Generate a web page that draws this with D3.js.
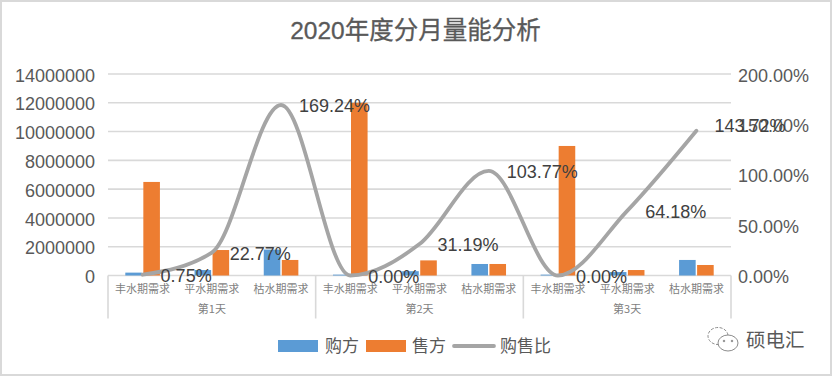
<!DOCTYPE html>
<html>
<head>
<meta charset="utf-8">
<script src="https://cdn.jsdelivr.net/npm/d3@7"></script>
<style>
  html, body { margin: 0; padding: 0; background: #fff; }
  svg { display: block; font-family: "Liberation Sans", "Noto Sans CJK SC", sans-serif; }
</style>
</head>
<body>
<div id="chart"></div>
<script>
// Values
const days = ['第1天', '第2天', '第3天'];
const periods = ['丰水期需求', '平水期需求', '枯水期需求'];
const buyers = [200000, 380000, 1800000, 60000, 300000, 800000, 60000, 240000, 1080000];
const sellers = [6500000, 1770000, 1080000, 12000000, 1050000, 800000, 9000000, 380000, 730000];
const ratios = [0.75, 22.77, 169.24, 0, 31.19, 103.77, 0, 64.18, 143.72];
const leftTicks = [0, 2000000, 4000000, 6000000, 8000000, 10000000, 12000000, 14000000];
const rightTicks = [0, 50, 100, 150, 200];

const fullWidth = 832;
const fullHeight = 376;
const margin = { top: 74, right: 101, bottom: 100.5, left: 108 };
const width = fullWidth - margin.left - margin.right;
const height = fullHeight - margin.top - margin.bottom;

const svg = d3.select('#chart').append('svg')
  .attr('width', fullWidth)
  .attr('height', fullHeight);

// Outer frame
svg.append('rect')
  .attr('x', 1).attr('y', 1)
  .attr('width', fullWidth - 2).attr('height', fullHeight - 2)
  .attr('fill', '#fff').attr('stroke', '#d9d9d9').attr('stroke-width', 2);

// Title
svg.append('text')
  .attr('x', 415.5).attr('y', 39)
  .attr('text-anchor', 'middle')
  .attr('font-size', 24.5)
  .attr('fill', '#595959')
  .attr('stroke', '#595959')
  .attr('stroke-width', 0.3)
  .text('2020年度分月量能分析');

const g = svg.append('g').attr('transform', `translate(${margin.left},${margin.top})`);

// Scales
const x = d3.scaleBand().domain(d3.range(ratios.length)).range([0, width]);
const xDay = d3.scaleBand().domain(days).range([0, width]);
const xBar = d3.scaleBand().domain(['buy', 'sell'])
  .range([x.bandwidth() * 0.25, x.bandwidth() * 0.75])
  .paddingInner(0.08);
const y = d3.scaleLinear().domain([0, 14000000]).range([height, 0]);
const yRight = d3.scaleLinear().domain([0, 200]).range([height, 0]);

// Gridlines
g.append('g')
  .selectAll('line')
  .data(leftTicks)
  .join('line')
    .attr('x1', 0).attr('x2', width)
    .attr('y1', d => y(d)).attr('y2', d => y(d))
    .attr('stroke', '#d9d9d9').attr('stroke-width', 1.6);

// Value axes
const leftAxis = g.append('g')
  .call(d3.axisLeft(y).tickValues(leftTicks).tickSize(0).tickPadding(13).tickFormat(d3.format('d')));
const rightAxis = g.append('g')
  .attr('transform', `translate(${width},0)`)
  .call(d3.axisRight(yRight).tickValues(rightTicks).tickSize(0).tickPadding(7).tickFormat(d => d.toFixed(2) + '%'));
[leftAxis, rightAxis].forEach(a => {
  a.select('.domain').remove();
  a.selectAll('text')
    .attr('dy', '0.4em')
    .attr('font-family', '"Liberation Sans", sans-serif')
    .attr('font-size', 18)
    .attr('fill', '#595959');
});

// Category axis, two levels
const catAxis = g.append('g')
  .attr('transform', `translate(0,${height})`)
  .call(d3.axisBottom(x).tickSize(0).tickPadding(10).tickFormat(i => periods[i % periods.length]));
catAxis.select('.domain').remove();
catAxis.selectAll('text')
  .attr('font-family', '"Noto Sans CJK SC", sans-serif')
  .attr('font-size', 11)
  .attr('fill', '#7f7f7f');

const dayAxis = g.append('g')
  .attr('transform', `translate(0,${height})`)
  .call(d3.axisBottom(xDay).tickSize(0).tickPadding(30));
dayAxis.select('.domain').remove();
dayAxis.selectAll('text')
  .attr('font-family', '"Noto Sans CJK SC", sans-serif')
  .attr('font-size', 11)
  .attr('fill', '#7f7f7f');

// Separators between days
g.append('g')
  .selectAll('line')
  .data(d3.range(days.length + 1))
  .join('line')
    .attr('x1', d => d * xDay.bandwidth()).attr('x2', d => d * xDay.bandwidth())
    .attr('y1', height).attr('y2', height + 43)
    .attr('stroke', '#d9d9d9').attr('stroke-width', 1.6);

// Bars
g.append('g')
  .selectAll('rect')
  .data(buyers)
  .join('rect')
    .attr('x', (d, i) => x(i) + xBar('buy'))
    .attr('y', d => y(d))
    .attr('width', xBar.bandwidth())
    .attr('height', d => height - y(d))
    .attr('fill', '#5b9bd5');
g.append('g')
  .selectAll('rect')
  .data(sellers)
  .join('rect')
    .attr('x', (d, i) => x(i) + xBar('sell'))
    .attr('y', d => y(d))
    .attr('width', xBar.bandwidth())
    .attr('height', d => height - y(d))
    .attr('fill', '#ed7d31');

// Ratio line
const line = d3.line()
  .x((d, i) => x(i) + x.bandwidth() / 2)
  .y(d => yRight(d))
  .curve(d3.curveMonotoneX);
g.append('path')
  .datum(ratios)
  .attr('d', line)
  .attr('fill', 'none')
  .attr('stroke', '#a5a5a5')
  .attr('stroke-width', 3.8)
  .attr('stroke-linecap', 'round');

// Data labels, to the right of each point
g.append('g')
  .selectAll('text')
  .data(ratios)
  .join('text')
    .attr('x', (d, i) => x(i) + x.bandwidth() / 2 + 18)
    .attr('y', (d, i) => yRight(d) - (i === ratios.length - 1 ? 6 : 0))
    .attr('dy', '0.4em')
    .attr('font-family', '"Liberation Sans", sans-serif')
    .attr('font-size', 18)
    .attr('fill', '#404040')
    .text(d => d.toFixed(2) + '%');

// Legend
const legend = svg.append('g').attr('font-family', '"Noto Sans CJK SC", sans-serif').attr('font-size', 17).attr('fill', '#595959');
legend.append('rect').attr('x', 278).attr('y', 340).attr('width', 40).attr('height', 12).attr('fill', '#5b9bd5');
legend.append('text').attr('x', 325).attr('y', 352).text('购方');
legend.append('rect').attr('x', 366).attr('y', 340).attr('width', 40).attr('height', 12).attr('fill', '#ed7d31');
legend.append('text').attr('x', 412).attr('y', 352).text('售方');
legend.append('line').attr('x1', 454).attr('x2', 494).attr('y1', 346).attr('y2', 346)
  .attr('stroke', '#a5a5a5').attr('stroke-width', 3.8).attr('stroke-linecap', 'round');
legend.append('text').attr('x', 500).attr('y', 352).text('购售比');

// Watermark
const mark = svg.append('g').attr('fill', '#fff').attr('stroke', '#8c8c8c').attr('stroke-width', 1);
mark.append('ellipse').attr('cx', 718).attr('cy', 336).attr('rx', 10).attr('ry', 8.5).attr('stroke-dasharray', '3 1.5');
mark.append('ellipse').attr('cx', 728).attr('cy', 343).attr('rx', 10).attr('ry', 8);
mark.append('circle').attr('cx', 724).attr('cy', 341).attr('r', 0.8).attr('fill', '#8c8c8c');
mark.append('circle').attr('cx', 732).attr('cy', 341).attr('r', 0.8).attr('fill', '#8c8c8c');
svg.append('text')
  .attr('x', 746).attr('y', 347)
  .attr('font-family', '"Noto Sans CJK SC", sans-serif')
  .attr('font-size', 19.5)
  .attr('fill', '#595959')
  .text('硕电汇');
</script>
</body>
</html>
